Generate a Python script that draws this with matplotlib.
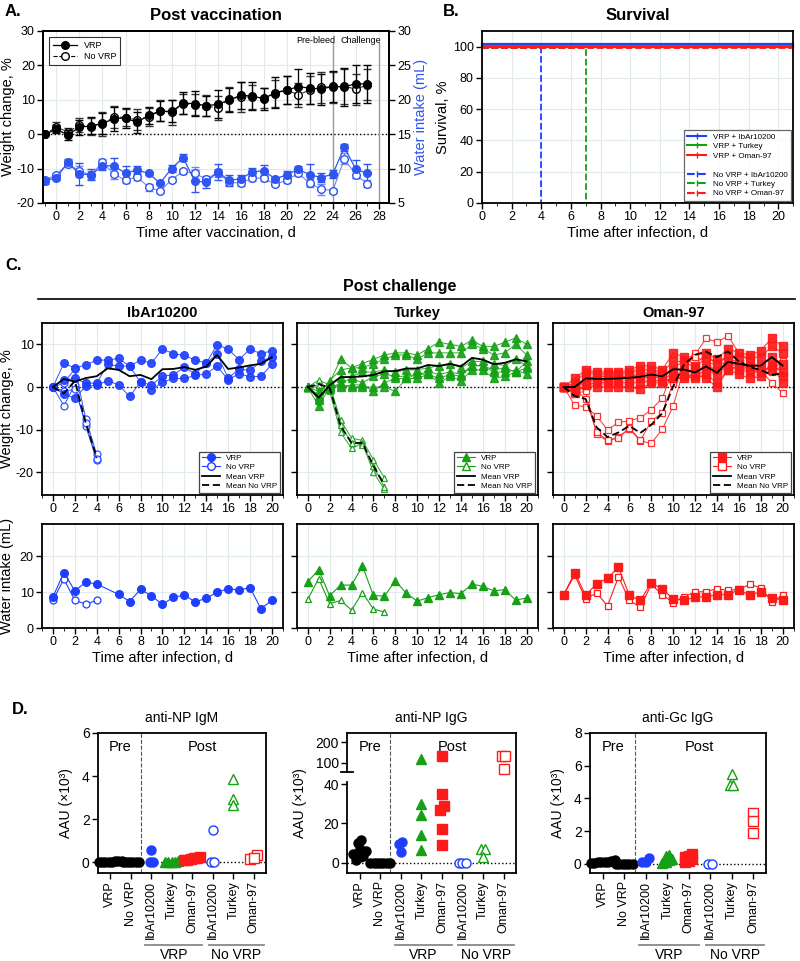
import matplotlib
matplotlib.use("Agg")
import matplotlib.pyplot as plt
import numpy as np
from matplotlib.lines import Line2D
from matplotlib.ticker import MultipleLocator
import matplotlib.transforms as mtransforms

plt.rcParams['font.family'] = ['Liberation Sans', 'DejaVu Sans']
plt.rcParams['axes.unicode_minus'] = False

AZUL = '#1f3fff'
AZUL_A = '#2f55f0'
VERDE = '#16a016'
ROJO = '#ff1a1a'
GRID = '#e3eaee'

# ---------------- Panel A: post vacunacion ----------------
dias_vac = np.arange(-1, 28)
peso_vrp = [0, 1.4, -0.2, 2.0, 2.4, 3.1, 4.5, 4.7, 3.4, 5.5, 6.7, 6.6, 9.0, 8.9, 8.2, 8.7,
            9.9, 11.3, 11.1, 10.3, 12.1, 12.8, 13.8, 13.4, 13.1, 13.9, 13.7, 14.7, 14.5]
peso_vrp_sd = [0, 1.2, 1.5, 2.2, 2.5, 3.0, 3.5, 2.8, 3.0, 2.5, 3.0, 3.2, 3.2, 3.5, 3.0, 4.0,
               3.5, 4.0, 4.0, 3.2, 4.5, 4.0, 5.0, 4.5, 4.5, 4.5, 5.5, 5.5, 5.5]
peso_novrp = [0, 2.1, 0.6, 2.6, 2.2, 2.9, 5.1, 4.8, 4.2, 5.0, 6.8, 6.3, 8.8, 8.6, 8.3, 7.5,
              10.2, 10.8, 10.8, 10.5, 11.8, 12.8, 11.5, 12.8, 13.7, 13.7, 13.9, 13.1, 14.3]
peso_novrp_sd = [0, 1.5, 1.2, 2.0, 2.5, 3.5, 3.2, 2.5, 3.0, 2.5, 3.0, 3.5, 3.0, 3.0, 3.0, 3.5,
                 3.5, 4.5, 3.5, 3.0, 4.0, 4.0, 3.5, 4.0, 4.5, 4.5, 5.0, 4.5, 4.5]
agua_vrp = [8.2, 8.7, 10.9, 9.2, 9.1, 10.4, 10.4, 9.3, 9.8, 9.3, 7.9, 10.0, 11.6, 8.2, 8.0, 9.5,
            8.3, 8.5, 9.5, 9.7, 8.5, 9.1, 9.9, 9.1, 8.7, 9.2, 13.1, 9.9, 9.3]
agua_vrp_sd = [0.4, 0.3, 0.5, 1.6, 0.8, 0.6, 1.2, 1.0, 0.6, 0.2, 0.2, 0.5, 0.5, 1.6, 0.8, 1.2,
               0.8, 0.5, 0.6, 0.8, 0.3, 0.5, 0.5, 1.5, 0.6, 0.6, 0.5, 1.3, 1.4]
agua_novrp = [8.3, 9.1, 10.7, 9.6, 9.1, 10.9, 9.2, 8.3, 8.8, 7.3, 6.7, 8.4, 9.6, 9.3, 8.5, 9.4,
              8.0, 7.9, 8.6, 8.6, 7.7, 8.3, 9.3, 7.9, 7.0, 6.8, 11.4, 9.1, 7.8]
agua_novrp_sd = [0.3, 0.3, 0.5, 0.8, 0.6, 0.5, 0.7, 0.4, 0.4, 0.5, 0.2, 0.4, 0.4, 0.9, 0.4, 0.6,
                 0.4, 0.4, 0.4, 0.4, 0.3, 0.4, 0.4, 0.6, 0.8, 0.3, 0.8, 0.5, 0.5]

# ---------------- Panel B: supervivencia ----------------
sup_etiquetas = ['VRP + IbAr10200', 'VRP + Turkey', 'VRP + Oman-97',
                 'No VRP + IbAr10200', 'No VRP + Turkey', 'No VRP + Oman-97']
sup_dias = [[0, 21], [0, 21], [0, 21], [0, 4, 21], [0, 7, 21], [0, 21]]
sup_valores = [[100, 100], [100, 100], [100, 100], [100, 0, 0], [100, 0, 0], [100, 100]]

# ---------------- Panel C: post desafio ----------------
dias_inf = np.arange(0, 21)
peso_ibar_vrp = [
    [0, 5.6, 4.4, 5.2, 6.3, 6.3, 6.7, 4.9, 6.3, 5.6, 8.9, 7.8, 7.4, 6.3, 5.6, 9.9, 8.9, 6.4, 8.9, 7.8, 8.5],
    [0, 1.7, 2.0, 0.9, 0.9, 5.3, 4.9, 4.9, 1.1, 0.5, 2.5, 2.9, 4.6, 3.1, 5.6, 7.7, 2.1, 4.2, 3.9, 6.0, 7.1],
    [0, -1.6, -2.6, 0.2, 0.4, 1.5, 0.5, -2.2, 1.1, -0.6, 1.1, 2.0, 2.0, 2.7, 3.1, 4.9, 1.7, 3.1, 2.4, 2.5, 5.3],
]
peso_ibar_novrp = [
    [0, 0.9, 4.3, -7.4, -15.8],
    [0, -4.4, 0.5, -9.2, -17.2],
    [0, -1.0, -0.5, -8.5, -16.8],
]
peso_turkey_vrp = [
    [0, -1, 1, 6.5, 4.5, 5.5, 6.5, 7.5, 8, 8, 7.5, 9, 10.5, 10, 9.5, 11, 9.5, 9.5, 10.5, 11.5, 10],
    [0, -2, 1.5, 4, 4.5, 4.5, 5.5, 6.5, 7.5, 7.5, 6.5, 8, 8, 8, 8, 10, 9, 7.5, 8, 10, 7.5],
    [0, -3, 0.5, 2, 2.5, 3.5, 3.5, 4, 3.5, 4, 4, 4.5, 5, 5.5, 4.5, 6, 6, 5.5, 5, 6.5, 5],
    [0, -2.5, -0.5, 1, 2, 1, 2.5, 3, 2.5, 2.5, 3, 3.5, 3, 3.5, 3, 5, 5, 3.5, 3.5, 4, 3],
    [0, -4.5, 0, 0.5, 0, 0, 0, 0, -1, 2, 2, 3, 1, 2.5, 1.5, 4, 4, 2, 2.5, 3.5, 4.5],
    [0, -2, 0, 0, 0.5, 0.5, -1, 1, 2, 2, 3, 3, 2, 3, 2.5, 5, 5, 4, 4.5, 3.5, 6],
]
peso_turkey_novrp = [
    [0, 1.6, 0.5, -7.7, -12.0, -12.5, -17.0, -21.2],
    [0, 0.0, -1.0, -10.6, -14.4, -13.2, -20.0, -24.0],
    [0, 0.5, 0.0, -9.0, -13.0, -13.5, -18.5, -23.5],
]
peso_oman_vrp = [
    [0, 2, 4, 3.5, 3.5, 3.5, 4, 5, 5, 4, 8, 7, 5, 8, 6.5, 9, 8, 7.5, 8.5, 11.5, 9.5],
    [0, 1, 3.5, 3, 3, 3, 3.5, 4, 4, 3.5, 6, 6, 4.5, 7, 5.5, 7.5, 7, 7, 7, 9.5, 8],
    [0, 0, 2, 2.5, 2.5, 2.5, 2.5, 3, 3.5, 3, 4, 4, 3.5, 5, 4, 6, 5.5, 5, 5, 7, 5.5],
    [0, -0.5, 1.5, 1.5, 1.5, 2, 2, 2, 2.5, 2, 3, 3, 2.5, 4, 3, 5, 4, 3.5, 3.5, 5, 3.5],
    [0, -1, 0.5, 1, 1, 1, 1, 1, 1.5, 1.5, 2, 2.5, 2, 3, 1, 4, 3, 2, 2.5, 4, 2.5],
    [0, -1.5, 0.5, 0, 0, 0, 0, -0.5, 1, 1, 2, 2, 3, 2, 0, 4, 5, 5, 3.5, 5, 1],
]
peso_oman_novrp = [
    [0, -4.3, -4.6, -6.8, -10.0, -8.3, -7.9, -7.2, -5.3, -2.6, 4.0, 6.5, 7.6, 11.4, 10.5, 12.0, 8.0, 6.0, 4.5, 4.0, 6.0],
    [0, -1.5, -1.0, -11.0, -12.7, -11.6, -9.9, -12.6, -13.2, -9.9, -4.5, 4.5, 8.0, 7.5, 5.5, 7.0, 5.5, 4.0, 4.0, 1.0, -1.4],
    [0, -0.5, -2.8, -10.5, -12.5, -12.0, -9.5, -12.5, -8.0, -6.0, 1.0, 5.0, 7.0, 6.0, 5.0, 6.0, 4.5, 4.0, 3.5, 3.5, 5.0],
]

dias_agua_ibar = [0, 1, 2, 3, 4, 6, 7, 8, 9, 10, 11, 12, 13, 14, 15, 16, 17, 18, 19, 20]
agua_ibar_vrp = [8.7, 15.5, 10.4, 12.8, 12.3, 9.4, 7.4, 10.8, 9.0, 6.6, 8.6, 9.2, 7.3, 8.3, 10.0,
                 11.0, 10.6, 11.3, 5.4, 7.7]
agua_ibar_novrp = [7.7, 13.7, 7.7, 6.7, 7.7]
agua_turkey_vrp = [12.9, 16.3, 9.0, 12.0, 12.0, 17.3, 9.1, 8.9, 13.2, 9.7, 7.5, 8.5, 9.3, 9.9, 9.6,
                   12.3, 11.6, 10.4, 10.7, 7.8, 8.4]
agua_turkey_novrp = [8.0, 13.8, 6.8, 7.7, 5.0, 9.9, 5.3, 4.5]
agua_oman_vrp = [9.3, 15.5, 9.1, 12.4, 13.9, 17.0, 9.1, 7.7, 12.7, 10.8, 8.2, 7.7, 8.7, 8.7, 9.3,
                 9.3, 10.7, 9.1, 10.2, 8.4, 7.8]
agua_oman_novrp = [9.3, 14.8, 8.1, 9.8, 6.2, 14.3, 7.7, 5.8, 12.2, 9.3, 7.1, 8.8, 10.0, 10.2, 11.0,
                   10.5, 10.8, 12.2, 11.2, 7.4, 9.1]

# ---------------- Panel D: anticuerpos ----------------
grupos_d = ['VRP', 'No VRP', 'IbAr10200', 'Turkey', 'Oman-97', 'IbAr10200', 'Turkey', 'Oman-97']
igm_np = [
    [0.05, 0.02, 0.03, 0.06, 0.01, 0.04, 0.02, 0.03],
    [0.0, 0.0, 0.0, 0.0, 0.0, 0.0],
    [0.55, 0.02, 0.02],
    [0.02, 0.03, 0.01, 0.05, 0.02],
    [0.1, 0.2, 0.15, 0.25, 0.1, 0.2],
    [1.5, 0.02, 0.02],
    [3.85, 2.95, 2.65],
    [0.35, 0.15, 0.2],
]
igg_np = [
    [11.5, 10.0, 7.0, 5.5, 4.5, 3.5, 3.0, 5.0, 1.5, 6.0, 4.5],
    [0.0, 0.0, 0.0, 0.0, 0.0, 0.0, 0.0],
    [9.5, 10.5, 5.5],
    [121, 30, 24, 14, 6.5],
    [135, 35, 29, 27, 17, 9],
    [0.0, 0.0, 0.0],
    [7.0, 7.0, 3.0],
    [132, 135, 68],
]
igg_gc = [
    [0.25, 0.15, 0.1, 0.2, 0.05, 0.1, 0.15, 0.05],
    [0.0, 0.0, 0.0, 0.0, 0.0, 0.0],
    [0.35, 0.1, 0.1],
    [0.55, 0.5, 0.3, 0.1, 0.05, 0.25],
    [0.6, 0.5, 0.4, 0.3, 0.1, 0.2],
    [0.02, 0.02],
    [5.5, 4.8, 4.8],
    [3.1, 2.6, 1.9],
]
estilos_d = [('o', 'k', True), ('o', 'k', True), ('o', AZUL, True), ('^', VERDE, True),
             ('s', ROJO, True), ('o', AZUL, False), ('^', VERDE, False), ('s', ROJO, False)]


def EstiloEje(ax):
    for sp in ax.spines.values():
        sp.set_linewidth(1.3)
    ax.tick_params(direction='out', length=4, width=1, labelsize=9, pad=2)


fig = plt.figure(figsize=(8, 9.61), dpi=100)

# ===== A =====
axA = fig.add_axes([0.054, 0.7888, 0.4325, 0.179])
axA.grid(True, color=GRID, lw=0.8)
axA.set_axisbelow(True)
axA.axhline(0, color='k', ls=':', lw=1)
axA.errorbar(dias_vac, peso_novrp, yerr=peso_novrp_sd, color='#333333', ls='--', lw=0.8,
             marker='o', ms=5.5, mfc='white', mec='k', capsize=3, elinewidth=0.9, zorder=3)
axA.errorbar(dias_vac, peso_vrp, yerr=peso_vrp_sd, color='k', lw=0.9,
             marker='o', ms=5.5, capsize=3, elinewidth=0.9, zorder=4)
axA.axvline(24, ymax=0.93, color='#999999', lw=1)
axA.axvline(28, ymax=0.93, color='#999999', lw=1)
axA.text(22.5, 27.3, 'Pre-bleed', ha='center', va='center', fontsize=6.5)
axA.text(26.4, 27.3, 'Challenge', ha='center', va='center', fontsize=6.5)
axA.set_xlim(-1.15, 28.9)
axA.set_ylim(-20, 30)
axA.set_xticks(np.arange(0, 29, 2))
axA.xaxis.set_minor_locator(MultipleLocator(1))
axA.set_yticks(np.arange(-20, 31, 10))
axA.set_ylabel('Weight change, %', fontsize=10.5, labelpad=1)
axA.set_xlabel('Time after vaccination, d', fontsize=10.5, labelpad=2)
axA.set_title('Post vaccination', fontsize=12, fontweight='bold', pad=8)
EstiloEje(axA)
axA.tick_params(which='minor', length=2.5)
leyA = axA.legend(handles=[
    Line2D([], [], color='k', marker='o', ms=5.5, lw=0.9, label='VRP'),
    Line2D([], [], color='k', ls='--', lw=0.8, marker='o', ms=5.5, mfc='white', label='No VRP')],
    loc='upper left', fontsize=6.5, frameon=True, fancybox=False, edgecolor='k',
    handlelength=2.6, borderpad=0.4, labelspacing=0.3, bbox_to_anchor=(0.005, 0.99))
leyA.get_frame().set_linewidth(0.8)

axA2 = axA.twinx()
axA2.errorbar(dias_vac, agua_novrp, yerr=agua_novrp_sd, color='#6f86f5', lw=0.8,
              marker='o', ms=5.5, mfc='white', mec=AZUL_A, capsize=3, elinewidth=0.9)
axA2.errorbar(dias_vac, agua_vrp, yerr=agua_vrp_sd, color=AZUL_A, lw=0.9,
              marker='o', ms=5.5, capsize=3, elinewidth=0.9)
axA2.set_ylim(5, 30)
axA2.set_yticks(np.arange(5, 31, 5))
axA2.set_ylabel('Water intake (mL)', color=AZUL_A, fontsize=10.5, labelpad=2)
EstiloEje(axA2)

# ===== B =====
axB = fig.add_axes([0.6025, 0.7888, 0.389, 0.179])
axB.grid(True, color=GRID, lw=0.8)
axB.set_axisbelow(True)
desplaz_b = [1.5, 0.3, -0.3, -0.9, -0.9, -1.2]
colores_b = [AZUL, VERDE, ROJO, AZUL, VERDE, ROJO]
lineas_b = ['-', '-', '-', '--', '--', '--']
for dias, vals, col, ls, dz in zip(sup_dias, sup_valores, colores_b, lineas_b, desplaz_b):
    v = np.array(vals, float)
    v = np.where(v > 0, v + dz, v)
    axB.plot(dias, v, drawstyle='steps-post', color=col, ls=ls, lw=1.6 if ls == '-' else 1.3,
             clip_on=False if ls == '-' else True)
axB.set_xlim(0, 21)
axB.set_ylim(0, 110)
axB.set_xticks(np.arange(0, 21, 2))
axB.xaxis.set_minor_locator(MultipleLocator(1))
axB.set_yticks(np.arange(0, 101, 20))
axB.set_ylabel('Survival, %', fontsize=10.5, labelpad=2)
axB.set_xlabel('Time after infection, d', fontsize=10.5, labelpad=2)
axB.set_title('Survival', fontsize=12, fontweight='bold', pad=8)
EstiloEje(axB)
axB.tick_params(which='minor', length=2.5)
manejadores_b = []
for i, (et, col, ls) in enumerate(zip(sup_etiquetas, colores_b, lineas_b)):
    if i == 3:
        manejadores_b.append(Line2D([], [], color='none', label=' '))
    manejadores_b.append(Line2D([], [], color=col, ls=ls, lw=1.5, marker='|', ms=5,
                                markevery=[1], label=et))
leyB = axB.legend(handles=manejadores_b, loc='lower right', fontsize=5.8, fancybox=False,
                  edgecolor='#444444', handlelength=2.4, labelspacing=0.22, borderpad=0.4,
                  borderaxespad=0.3)
leyB.get_frame().set_linewidth(0.9)

# ===== C =====
fig.text(0.5, 1 - 287 / 961, 'Post challenge', ha='center', va='center', fontsize=11.5,
         fontweight='bold')
fig.add_artist(Line2D([0.048, 0.994], [1 - 299 / 961] * 2, transform=fig.transFigure,
                      color='k', lw=1.2))

cepas = [
    ('IbAr10200', 'o', AZUL, peso_ibar_vrp, peso_ibar_novrp,
     dias_agua_ibar, agua_ibar_vrp, agua_ibar_novrp, 0.0525),
    ('Turkey', '^', VERDE, peso_turkey_vrp, peso_turkey_novrp,
     list(dias_inf), agua_turkey_vrp, agua_turkey_novrp, 0.371),
    ('Oman-97', 's', ROJO, peso_oman_vrp, peso_oman_novrp,
     list(dias_inf), agua_oman_vrp, agua_oman_novrp, 0.691),
]
for j, (nombre, mk, col, pv, pn, dagua, av, an, x0) in enumerate(cepas):
    ax = fig.add_axes([x0, 0.4849, 0.301, 0.179])
    ax.grid(True, color=GRID, lw=0.8)
    ax.set_axisbelow(True)
    ax.axhline(0, color='k', ls=':', lw=1)
    for serie in pn:
        ax.plot(np.arange(len(serie)), serie, color=col, lw=0.7, marker=mk, ms=5,
                mfc='white', mec=col, mew=0.9, alpha=0.9)
    for serie in pv:
        ax.plot(np.arange(len(serie)), serie, color=col, lw=0.7, marker=mk, ms=5.5,
                mfc=col, mec=col, alpha=0.9)
    media_v = np.mean(np.array(pv), axis=0)
    media_n = np.mean(np.array(pn), axis=0)
    ax.plot(np.arange(len(media_v)), media_v, color='k', lw=1.3, zorder=5)
    ax.plot(np.arange(len(media_n)), media_n, color='k', lw=1.3, ls=(0, (4, 2)), zorder=5)
    ax.set_xlim(-1, 21)
    ax.set_ylim(-25.3, 15)
    ax.set_xticks(np.arange(0, 21, 2))
    ax.xaxis.set_minor_locator(MultipleLocator(1))
    ax.set_yticks([-20, -10, 0, 10])
    ax.set_title(nombre, fontsize=10.5, fontweight='bold', pad=4)
    EstiloEje(ax)
    ax.tick_params(which='minor', length=2.5)
    if j == 0:
        ax.set_ylabel('Weight change, %', fontsize=10.5, labelpad=1)
    else:
        ax.tick_params(axis='y', labelleft=False)
    ley = ax.legend(handles=[
        Line2D([], [], color=col, lw=0.8, marker=mk, ms=5.5, label='VRP'),
        Line2D([], [], color=col, lw=0.8, marker=mk, ms=5.5, mfc='white', label='No VRP'),
        Line2D([], [], color='k', lw=1.3, label='Mean VRP'),
        Line2D([], [], color='k', lw=1.3, ls=(0, (4, 2)), label='Mean No VRP')],
        loc='lower right', fontsize=5.8, fancybox=False, edgecolor='#444444',
        handlelength=2.2, labelspacing=0.2, borderpad=0.35, framealpha=1, borderaxespad=0.3)
    ley.get_frame().set_linewidth(0.9)

    axw = fig.add_axes([x0, 0.3465, 0.301, 0.108])
    axw.grid(True, color=GRID, lw=0.8)
    axw.set_axisbelow(True)
    axw.plot(np.arange(len(an)), an, color=col, lw=0.8, marker=mk, ms=5, mfc='white',
             mec=col, mew=0.9)
    axw.plot(dagua, av, color=col, lw=0.8, marker=mk, ms=5.5, mfc=col, mec=col)
    axw.set_xlim(-1, 21)
    axw.set_ylim(0, 29)
    axw.set_xticks(np.arange(0, 21, 2))
    axw.xaxis.set_minor_locator(MultipleLocator(1))
    axw.set_yticks([0, 10, 20])
    axw.set_xlabel('Time after infection, d', fontsize=10.5, labelpad=2)
    EstiloEje(axw)
    axw.tick_params(which='minor', length=2.5)
    if j == 0:
        axw.set_ylabel('Water intake (mL)', fontsize=10.5, labelpad=4)
    else:
        axw.tick_params(axis='y', labelleft=False)


# ===== D =====
def PosicionesEnjambre(valores, centro, paso_y, ancho=0.16):
    valores = np.asarray(valores, float)
    xs = np.full(len(valores), float(centro))
    grupos = []
    for i in np.argsort(valores):
        if grupos and abs(valores[i] - valores[grupos[-1][0]]) < paso_y:
            grupos[-1].append(i)
        else:
            grupos.append([i])
    for g in grupos:
        for k, i in enumerate(g):
            xs[i] = centro + (k - (len(g) - 1) / 2) * ancho
    return xs


def adelante(y):
    y = np.asarray(y, float)
    return np.where(y <= 45, y, 45 + (y - 45) * 0.105)


def atras(y):
    y = np.asarray(y, float)
    return np.where(y <= 45, y, 45 + (y - 45) / 0.105)


def DibujarAnticuerpos(ax, datos, titulo, ylim, yticks, paso_y, transf=None):
    ax.axhline(0, color='k', ls=':', lw=1)
    ax.axvline(1.5, color='#555555', ls='--', lw=0.8)
    for i, (vals, (mk, col, lleno)) in enumerate(zip(datos, estilos_d)):
        vt = transf(vals) if transf else np.asarray(vals, float)
        xs = PosicionesEnjambre(vt, i, paso_y)
        ax.plot(xs, vals, ls='none', marker=mk, ms=6.5, mfc=col if lleno else 'white',
                mec=col, mew=1, clip_on=False, zorder=3)
    ax.set_xlim(-0.6, 7.6)
    ax.set_ylim(*ylim)
    ax.set_yticks(yticks)
    ax.set_xticks(range(len(grupos_d)))
    ax.set_xticklabels(grupos_d, rotation=90, fontsize=9.5)
    ax.set_title(titulo, fontsize=10, pad=8)
    ax.set_ylabel('AAU (×10³)', fontsize=10, labelpad=6)
    EstiloEje(ax)
    ax.tick_params(axis='y', labelsize=10)
    ax.text(0.5, 0.9, 'Pre', transform=ax.get_xaxis_transform(), ha='center', va='center',
            fontsize=10.5)
    ax.text(4.5, 0.9, 'Post', transform=ax.get_xaxis_transform(), ha='center', va='center',
            fontsize=10.5)
    tr = ax.get_xaxis_transform()
    for a, b, et in [(1.7, 4.5, 'VRP'), (4.8, 7.5, 'No VRP')]:
        ax.plot([a, b], [-0.515, -0.515], transform=tr, color='#888888', lw=1.3, clip_on=False)
        ax.text((a + b) / 2, -0.535, et, transform=tr, ha='center', va='top', fontsize=10)


axD1 = fig.add_axes([0.1225, 0.0916, 0.21, 0.1457])
DibujarAnticuerpos(axD1, igm_np, 'anti-NP IgM', (-0.5, 6), [0, 2, 4, 6], 0.25)

axD2 = fig.add_axes([0.434, 0.0916, 0.211, 0.1457])
axD2.set_yscale('function', functions=(adelante, atras))
DibujarAnticuerpos(axD2, igg_np, 'anti-NP IgG', (-5.3, 245), [0, 20, 40, 100, 200], 2.5,
                   transf=adelante)
axD2.spines['left'].set_visible(False)
trD2 = mtransforms.blended_transform_factory(axD2.transAxes, axD2.transData)
axD2.plot([0, 0], [-5.3, 41], transform=trD2, color='k', lw=1.3, clip_on=False)
axD2.plot([0, 0], [57, 245], transform=trD2, color='k', lw=1.3, clip_on=False)
axD2.plot([-0.035, 0.035], [57, 57], transform=trD2, color='k', lw=1.3, clip_on=False)

axD3 = fig.add_axes([0.7375, 0.0916, 0.22, 0.1457])
DibujarAnticuerpos(axD3, igg_gc, 'anti-Gc IgG', (-0.55, 8), [0, 2, 4, 6, 8], 0.3)

# etiquetas de panel
for x, y, t in [(5, 12, 'A.'), (443, 12, 'B.'), (5, 265, 'C.'), (12, 710, 'D.')]:
    fig.text(x / 800, 1 - y / 961, t, fontsize=12, fontweight='bold', va='center')

fig.savefig('out.png', dpi=100)
